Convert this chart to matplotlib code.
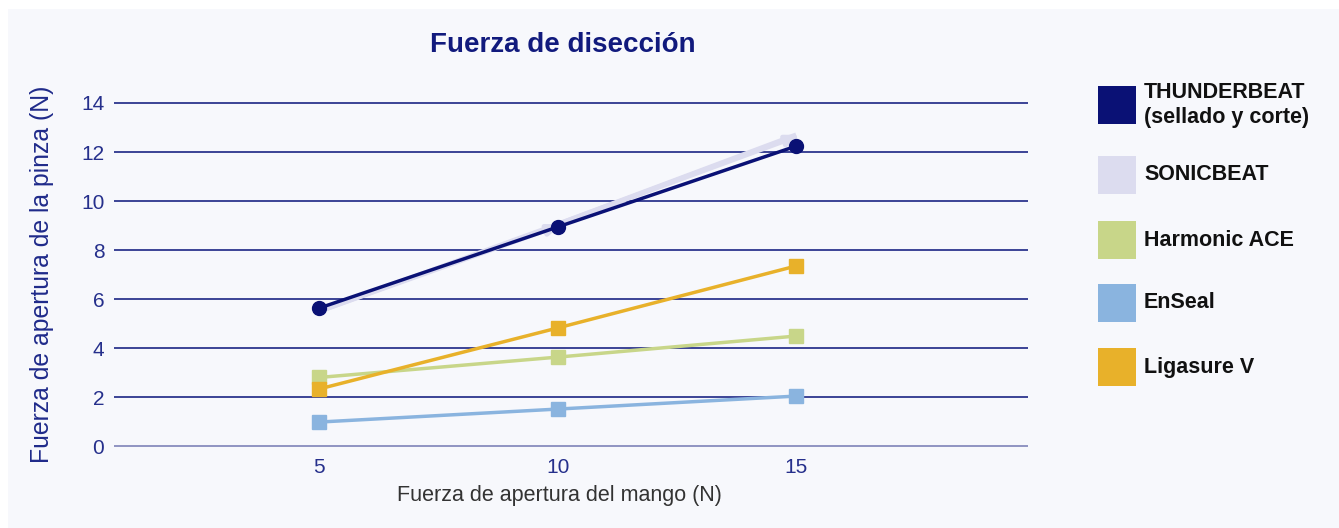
import numpy as np
import matplotlib.pyplot as plt
from matplotlib.patches import Rectangle

plt.rcParams['font.family'] = ['Liberation Sans', 'DejaVu Sans']

x = [5, 10, 15]
thunderbeat = [5.63, 8.94, 12.24]
sonicbeat = [5.5, 9.05, 12.7]
harmonic = [2.8, 3.63, 4.49]
enseal = [0.98, 1.51, 2.04]
ligasure = [2.33, 4.82, 7.35]

legend_labels = ['THUNDERBEAT\n(sellado y corte)', 'SONICBEAT', 'Harmonic ACE', 'EnSeal', 'Ligasure V']
colors = ['#0a1175', '#dcdcef', '#c8d689', '#8ab4df', '#e8b12a']
yticks = [0, 2, 4, 6, 8, 10, 12, 14]
xticks = [5, 10, 15]

navy = '#1c2585'
bg = '#f7f8fc'

fig = plt.figure(figsize=(13.39, 5.28), dpi=100)
fig.patch.set_facecolor('white')
fig.add_artist(Rectangle((8 / 1339, 0), 1, 1 - 9 / 528, transform=fig.transFigure,
                         facecolor=bg, edgecolor='none', zorder=0))

ax = fig.add_axes([114 / 1339, 1 - 450 / 528, (1028 - 114) / 1339, (450 - 90) / 528])
ax.set_facecolor(bg)
ax.patch.set_alpha(0)
ax.set_xlim(0.7, 19.86)
ax.set_ylim(-0.16, 14.53)

for y in yticks:
    c = '#7e83b8' if y == 0 else navy
    ax.axhline(y, color=c, lw=1.2, zorder=1)

for s in ax.spines.values():
    s.set_visible(False)

ax.set_yticks(yticks)
ax.set_xticks(xticks)
ax.tick_params(length=0, labelsize=15, labelcolor='#26308c', pad=7)
ax.tick_params(axis='x', pad=6)

# SONICBEAT drawn as a pale wide line with arrow tips
ax.plot(x, sonicbeat, color=colors[1], lw=3.5, zorder=2, solid_capstyle='butt')
for i in range(len(x) - 1):
    ax.annotate('', xy=(x[i + 1] + 0.1, sonicbeat[i + 1]), xytext=(x[i], sonicbeat[i]),
                arrowprops=dict(arrowstyle='-|>,head_length=0.8,head_width=0.3',
                                color=colors[1], lw=3.5, shrinkA=0, shrinkB=0), zorder=2)

ax.plot(x, thunderbeat, color=colors[0], lw=2.5, marker='o', ms=10, zorder=5)
ax.plot(x, harmonic, color=colors[2], lw=2.5, marker='s', ms=9.5, zorder=3)
ax.plot(x, enseal, color=colors[3], lw=2.5, marker='s', ms=9.5, zorder=3)
ax.plot(x, ligasure, color=colors[4], lw=2.5, marker='s', ms=9.5, zorder=4)

fig.text(563 / 1339, 1 - 45 / 528, 'Fuerza de disección', ha='center', va='center',
         fontsize=20, fontweight='bold', color='#111a7d')
fig.text(42 / 1339, 1 - 274 / 528, 'Fuerza de apertura de la pinza (N)', rotation=90,
         ha='center', va='center', fontsize=17.8, color='#1f2a8a')
fig.text(559 / 1339, 1 - 496 / 528, 'Fuerza de apertura del mango (N)', ha='center',
         va='center', fontsize=15.5, color='#333333')

# legend
leg_y = [105, 175, 240, 303, 367]
for lab, c, yy in zip(legend_labels, colors, leg_y):
    fig.add_artist(Rectangle((1098 / 1339, 1 - (yy + 19) / 528), 38 / 1339, 38 / 528,
                             transform=fig.transFigure, facecolor=c, edgecolor='none'))
    fig.text(1144 / 1339, 1 - yy / 528, lab, ha='left', va='center', fontsize=15.5,
             fontweight='bold', color='#111111', linespacing=1.2)

plt.savefig('out.png', dpi=100, facecolor=fig.get_facecolor())
